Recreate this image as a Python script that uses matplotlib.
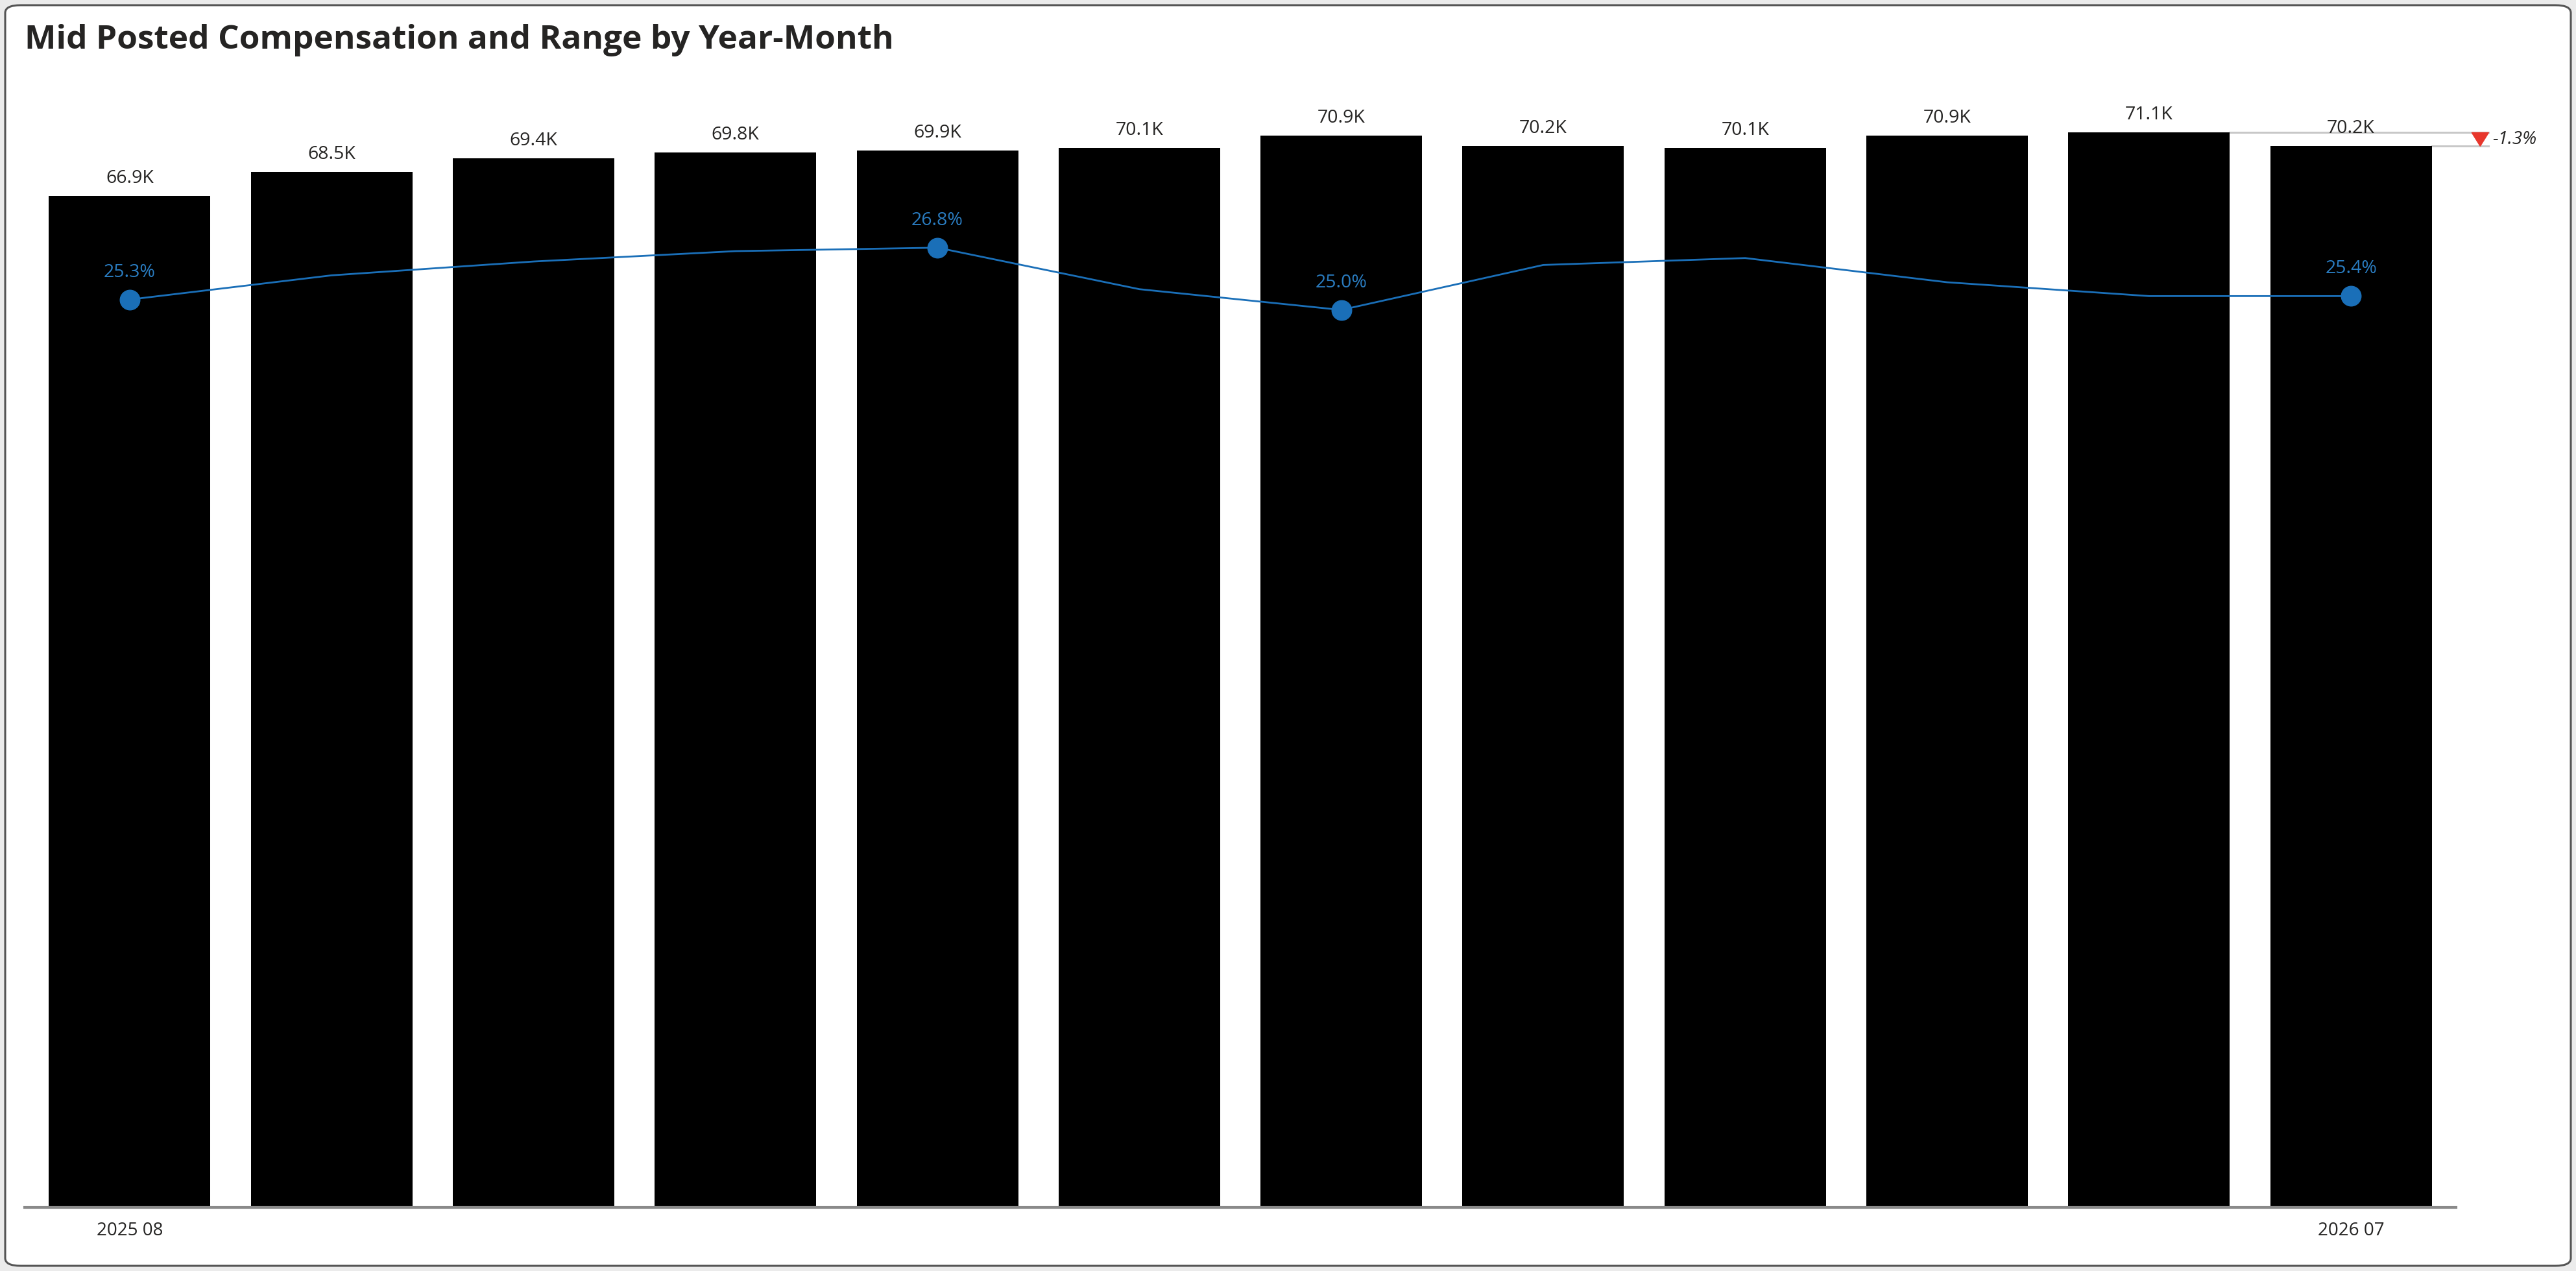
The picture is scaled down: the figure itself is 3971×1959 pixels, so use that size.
import numpy as np
import matplotlib.pyplot as plt
from matplotlib.patches import FancyBboxPatch

plt.rcParams['font.family'] = ['Open Sans', 'DejaVu Sans']

# data
months = ['2025 08', '2025 09', '2025 10', '2025 11', '2025 12', '2026 01',
          '2026 02', '2026 03', '2026 04', '2026 05', '2026 06', '2026 07']
mid_comp = [66.9, 68.5, 69.4, 69.8, 69.9, 70.1, 70.9, 70.2, 70.1, 70.9, 71.1, 70.2]  # K
range_pct = [25.3, 26.0, 26.4, 26.7, 26.8, 25.6, 25.0, 26.3, 26.5, 25.8, 25.4, 25.4]

W, H = 3971, 1959
fig = plt.figure(figsize=(W / 100, H / 100), dpi=100)
fig.patch.set_facecolor('#ebebeb')

# card background with rounded border
card = FancyBboxPatch((8 / W, 8 / H), (W - 16) / W, (H - 16) / H,
                      boxstyle='round,pad=0,rounding_size=0.006',
                      transform=fig.transFigure, facecolor='white',
                      edgecolor='#555555', linewidth=2.2, zorder=-10)
fig.patches.append(card)

fig.text(38 / W, 1 - 62 / H, 'Mid Posted Compensation and Range by Year-Month',
         fontsize=37, fontweight='bold', color='#252423', va='center', ha='left')

left, right = 38 / W, 3786 / W
bottom, top = 1 - 1861 / H, 1 - 120 / H
ax = fig.add_axes([left, bottom, right - left, top - bottom])
ax.patch.set_alpha(0)

x = np.arange(len(months))
ax.bar(x, mid_comp, width=0.8, color='black', zorder=2)
ax.set_xlim(-0.52, 11.52)
ax.set_ylim(0, 74.72)

for xi, v in zip(x, mid_comp):
    ax.annotate(f'{v:.1f}K', (xi, v), xytext=(0, 13), textcoords='offset pixels',
                ha='center', va='bottom', fontsize=20.5, color='#252423', zorder=5)

# compare last bar against the highest one
imax = int(np.argmax(mid_comp))
last = len(mid_comp) - 1
xe = 11.68
ax.plot([imax + 0.4, xe], [mid_comp[imax]] * 2, color='#c8c8c8', lw=2.2, zorder=1,
        clip_on=False)
ax.plot([last + 0.4, xe], [mid_comp[last]] * 2, color='#c8c8c8', lw=2.2, zorder=1,
        clip_on=False)
tri_x = 11.64
ax.fill([tri_x - 0.042, tri_x + 0.042, tri_x],
        [mid_comp[imax], mid_comp[imax], mid_comp[last]],
        color='#e8372c', clip_on=False, zorder=3)
chg = (mid_comp[last] / mid_comp[imax] - 1) * 100
ax.text(11.70, (mid_comp[imax] + mid_comp[last]) / 2, f'{chg:.1f}%',
        fontsize=20, style='italic', color='#252423', va='center', ha='left')

for s in ['top', 'right', 'left']:
    ax.spines[s].set_visible(False)
ax.spines['bottom'].set_color('#8a8a8a')
ax.spines['bottom'].set_linewidth(3)
ax.set_yticks([])
ax.set_xticks([0, last])
ax.set_xticklabels([months[0], months[last]], fontsize=20, color='#252423')
ax.tick_params(axis='x', length=0, pad=16)

# secondary axis for range %
ax2 = ax.twinx()
ax2.set_ylim(-0.95, 31.71)
ax2.axis('off')
blue = '#1a6fb8'
ax2.plot(x, range_pct, color=blue, lw=2, zorder=4)
marked = [0, int(np.argmax(range_pct)), int(np.argmin(range_pct)), last]
for i in marked:
    ax2.plot(x[i], range_pct[i], 'o', color=blue, markersize=22, zorder=5)
    ax2.annotate(f'{range_pct[i]:.1f}%', (x[i], range_pct[i]), xytext=(0, 28),
                 textcoords='offset pixels', ha='center', va='bottom',
                 fontsize=20.5, color='#2a7cc0')

fig.savefig('out.png', dpi=100)
